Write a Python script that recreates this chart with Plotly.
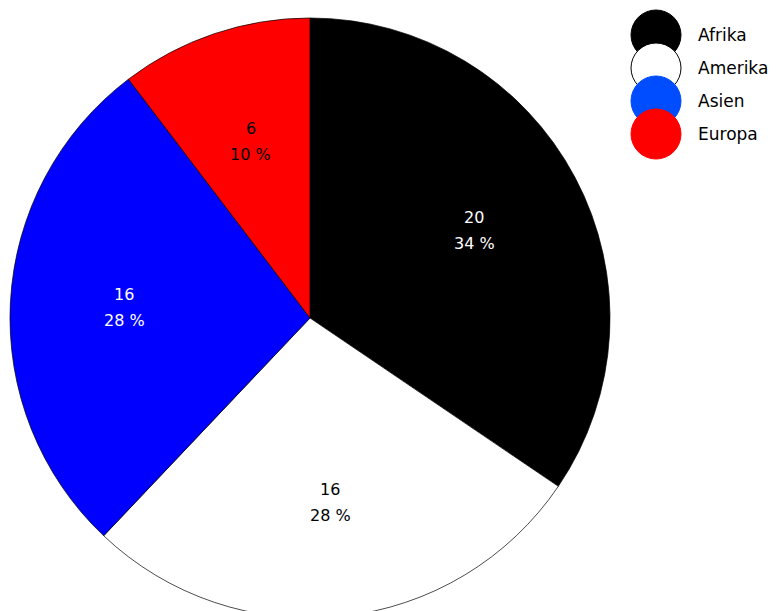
import math

import plotly.graph_objects as go

# ── Data ─────────────────────────────────────────────────────────────────────

regions = ["Afrika", "Amerika", "Asien", "Europa"]
counts = [20, 16, 16, 6]
slice_colors = ["#000000", "#ffffff", "#0000ff", "#ff0000"]
legend_colors = ["#000000", "#ffffff", "#004cff", "#ff0000"]
text_colors = ["#ffffff", "#000000", "#ffffff", "#000000"]

# ── Layout constants (pixels, page body adds an 8px offset) ─────────────────

W, H = 768, 628
PIE_L, PIE_T, PIE_D = 2, 10, 600
LABEL_R = 0.62  # label distance from centre, fraction of radius
LINE_GAP = 13
LEG_X, LEG_Y0, LEG_STEP, LEG_R = 648, 27, 33, 25
LEG_TEXT_X = 688
FONT = "DejaVu Sans, Inter, sans-serif"

total = sum(counts)
pie_domain = dict(
    x=[PIE_L / W, (PIE_L + PIE_D) / W],
    y=[1 - (PIE_T + PIE_D) / H, 1 - PIE_T / H],
)

fig = go.Figure(
    go.Pie(
        labels=regions,
        values=counts,
        sort=False,
        direction="clockwise",
        rotation=0,
        marker=dict(colors=slice_colors, line=dict(color="#000000", width=0.7)),
        textinfo="none",
        showlegend=False,
        hovertemplate="%{label}: %{value}<extra></extra>",
        domain=pie_domain,
    )
)

# ── Slice labels: value over percent, at mid-angle ───────────────────────────

cx = (PIE_L + PIE_D / 2) / W
cy = 1 - (PIE_T + PIE_D / 2) / H
cum = 0
for v, col in zip(counts, text_colors):
    ang = 2 * math.pi * (cum + v / 2) / total  # clockwise from 12 o'clock
    cum += v
    lx = cx + LABEL_R * PIE_D / 2 * math.sin(ang) / W
    ly = cy + LABEL_R * PIE_D / 2 * math.cos(ang) / H
    for txt, shift in [(str(v), LINE_GAP), (f"{round(v / total * 100)} %", -LINE_GAP)]:
        fig.add_annotation(
            x=lx,
            y=ly,
            xref="paper",
            yref="paper",
            xanchor="center",
            yanchor="middle",
            yshift=shift,
            text=txt,
            showarrow=False,
            font=dict(family=FONT, size=16, color=col),
        )

# ── Legend: big overlapping circles ──────────────────────────────────────────

for i, (name, col) in enumerate(zip(regions, legend_colors)):
    ypos = 1 - (LEG_Y0 + i * LEG_STEP) / H
    fig.add_shape(
        type="circle",
        xref="paper",
        yref="paper",
        xsizemode="pixel",
        ysizemode="pixel",
        xanchor=LEG_X / W,
        yanchor=ypos,
        x0=-LEG_R,
        x1=LEG_R,
        y0=-LEG_R,
        y1=LEG_R,
        fillcolor=col,
        line=dict(color="#000000" if col == "#ffffff" else col, width=1),
        layer="above",
    )
    fig.add_annotation(
        x=LEG_TEXT_X / W,
        y=ypos,
        xref="paper",
        yref="paper",
        xanchor="left",
        yanchor="middle",
        text=name,
        showarrow=False,
        font=dict(family=FONT, size=17, color="#000000"),
    )

fig.update_layout(
    width=W,
    height=H,
    margin=dict(l=0, r=0, t=0, b=0),
    paper_bgcolor="#ffffff",
    plot_bgcolor="#ffffff",
    font=dict(family=FONT, color="#000000"),
)

fig.write_html("out.html")
